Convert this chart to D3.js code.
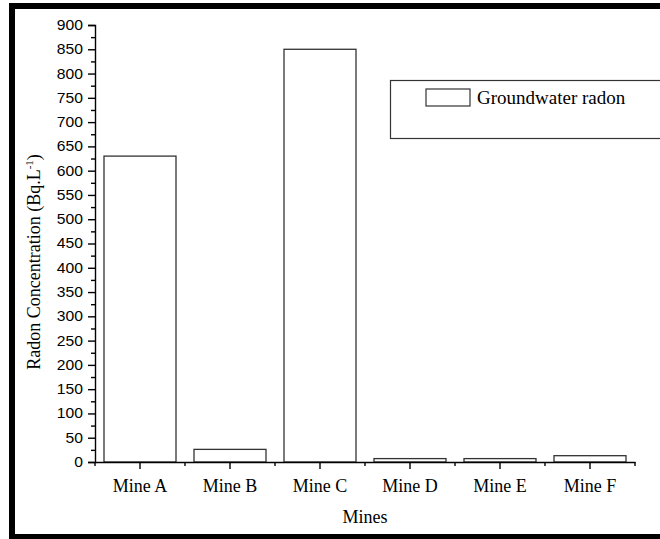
<!DOCTYPE html>
<html><head><meta charset="utf-8">
<script src="https://cdn.jsdelivr.net/npm/d3@7"></script>
<style>html,body{margin:0;padding:0;background:#fff;}svg{display:block;}</style>
</head><body>
<svg id="c" width="660" height="539"></svg>
<script>
const categories = ["Mine A","Mine B","Mine C","Mine D","Mine E","Mine F"];
const values = [630, 26, 850, 7, 7, 13];
const yMajorTicks = [0,50,100,150,200,250,300,350,400,450,500,550,600,650,700,750,800,850,900];
const yMinorTicks = [25,75,125,175,225,275,325,375,425,475,525,575,625,675,725,775,825,875];
const seriesName = "Groundwater radon";
const xTitle = "Mines";

const svg = d3.select("#c");
// outer frame
svg.append("rect").attr("x",12).attr("y",6).attr("width",700).attr("height",531)
  .attr("fill","none").attr("stroke","#000").attr("stroke-width",6);

const L=95, R=635, T=25, B=462;
const x = d3.scaleBand().domain(categories).range([L,R]).paddingInner(0.2).paddingOuter(0.1);
const y = d3.scaleLinear().domain([0,900]).range([B,T]);

// bars
svg.append("g").selectAll("rect").data(values).join("rect")
  .attr("x",(d,i)=>x(categories[i])).attr("width",x.bandwidth())
  .attr("y",d=>y(d)).attr("height",d=>B-y(d))
  .attr("fill","#fff").attr("stroke","#333").attr("stroke-width",1.3);

// y axis
const yAx = svg.append("g").attr("transform",`translate(${L},0)`)
  .call(d3.axisLeft(y).tickValues(yMajorTicks).tickSize(7).tickPadding(5).tickFormat(d3.format("d")));
yAx.select(".domain").attr("stroke-width",1.4);
yAx.selectAll(".tick line").attr("stroke-width",1.4);
yAx.selectAll("text").attr("font-family","Liberation Sans, Arial, sans-serif").attr("font-size",14)
  .attr("fill","#000").attr("transform","scale(1.12,1)").attr("x",-12/1.12);
svg.append("g").attr("transform",`translate(${L},0)`)
  .call(d3.axisLeft(y).tickValues(yMinorTicks).tickSize(4).tickFormat(""))
  .call(g=>g.select(".domain").remove())
  .selectAll("line").attr("stroke-width",1.4);

// x axis
const xAx = svg.append("g").attr("transform",`translate(0,${B})`)
  .call(d3.axisBottom(x).tickSize(7).tickSizeOuter(0).tickPadding(10));
xAx.select(".domain").attr("stroke-width",1.4);
xAx.selectAll(".tick line").attr("stroke-width",1.4);
xAx.selectAll("text").attr("font-family","Liberation Serif, Times New Roman, serif")
  .attr("font-size",18).attr("fill","#000");
// minor ticks at category boundaries
const step = x.step();
const bounds = categories.map(c=>x(c)-x.paddingInner()*step/2).concat([R]);
svg.append("g").selectAll("line").data(bounds).join("line")
  .attr("x1",d=>d).attr("x2",d=>d).attr("y1",B).attr("y2",B+4)
  .attr("stroke","#000").attr("stroke-width",1.4);

// titles
svg.append("text").attr("x",(L+R)/2).attr("y",523).attr("text-anchor","middle")
  .attr("font-family","Liberation Serif, Times New Roman, serif").attr("font-size",18).text(xTitle);
const yt = svg.append("text").attr("transform","translate(40,262) rotate(-90)").attr("text-anchor","middle")
  .attr("font-family","Liberation Serif, Times New Roman, serif").attr("font-size",18);
yt.append("tspan").text("Radon Concentration (Bq.L");
yt.append("tspan").attr("dy",-7).attr("font-size",11).text("-1");
yt.append("tspan").attr("dy",7).text(")");

// legend
svg.append("rect").attr("x",390.5).attr("y",80.5).attr("width",300).attr("height",58)
  .attr("fill","#fff").attr("stroke","#333").attr("stroke-width",1.2);
svg.append("rect").attr("x",426).attr("y",89).attr("width",44).attr("height",17)
  .attr("fill","#fff").attr("stroke","#333").attr("stroke-width",1.2);
svg.append("text").attr("x",477).attr("y",104)
  .attr("font-family","Liberation Serif, Times New Roman, serif").attr("font-size",19).text(seriesName);
</script>
</body></html>
